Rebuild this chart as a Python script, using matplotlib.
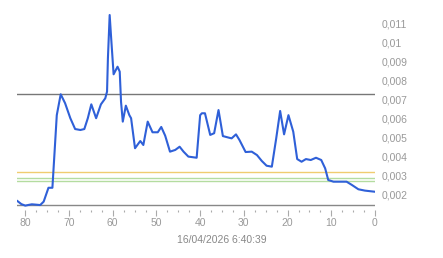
import matplotlib
matplotlib.use('Agg')
import matplotlib.pyplot as plt
from matplotlib.ticker import MultipleLocator

plt.rcParams['font.family'] = ['Liberation Sans', 'DejaVu Sans']

# values (x = units ago, reversed axis)
xs = [81.8, 80.9, 80.0, 79.2, 78.5, 77.5, 76.6, 75.8, 74.7, 73.8, 73.3, 72.8,
      71.9, 70.9, 69.7, 68.6, 67.4, 66.5, 65.7, 64.9, 63.8, 62.7, 61.7, 61.3,
      61.1, 60.7, 60.4, 59.8, 58.9, 58.4, 58.1, 57.7, 57.0, 56.2, 55.8, 54.9,
      53.7, 53.0, 52.0, 50.9, 49.7, 48.9, 48.0, 46.9, 45.7, 44.7, 43.8, 42.7,
      40.8, 40.0, 39.6, 38.9, 37.7, 36.8, 35.8, 34.8, 33.5, 32.8, 31.8, 31.0,
      29.6, 28.2, 27.0, 25.9, 24.8, 23.6, 22.6, 21.7, 20.8, 19.8, 18.7, 17.8,
      16.8, 15.8, 14.7, 13.5, 12.3, 11.4, 10.7, 9.5, 6.5, 5.3, 3.8, 2.3, 0.0]
ys = [0.00168, 0.00152, 0.00144, 0.00148, 0.00151, 0.00149, 0.00147, 0.00165,
      0.00238, 0.00238, 0.00428, 0.0062, 0.0073, 0.00683, 0.00604, 0.00547,
      0.00542, 0.00547, 0.00604, 0.00677, 0.00604, 0.00677, 0.00709, 0.00744,
      0.0092, 0.01147, 0.0104, 0.00835, 0.00875, 0.00849, 0.0069, 0.00586,
      0.0067, 0.0062, 0.00604, 0.00446, 0.00484, 0.00463, 0.00586, 0.0053,
      0.0053, 0.00558, 0.00512, 0.00428, 0.00437, 0.00454, 0.00428, 0.00402,
      0.00396, 0.0062, 0.0063, 0.0063, 0.00516, 0.00525, 0.00647, 0.0051,
      0.00502, 0.00498, 0.00519, 0.00489, 0.00426, 0.00428, 0.0041, 0.00379,
      0.00354, 0.00349, 0.00498, 0.00642, 0.00519, 0.0062, 0.00533, 0.00389,
      0.00375, 0.00389, 0.00384, 0.00396, 0.00384, 0.0034, 0.00279, 0.0027,
      0.0027, 0.00253, 0.0023, 0.00223, 0.00217]

# reference levels
high_level = 0.0073
orange_level = 0.0032
green_levels = [0.00288, 0.00272]
low_level = 0.00147

x_ticks = [80, 70, 60, 50, 40, 30, 20, 10, 0]
y_ticks = [0.002, 0.003, 0.004, 0.005, 0.006, 0.007, 0.008, 0.009, 0.01, 0.011]
y_labels = ['0,002', '0,003', '0,004', '0,005', '0,006', '0,007', '0,008',
            '0,009', '0,01', '0,011']
stamp = '16/04/2026 6:40:39'

fig = plt.figure(figsize=(4.43, 2.58), dpi=100)
ax = fig.add_axes([17 / 443, 1 - 210 / 258, 358 / 443, 210 / 258])

xmin, xmax = 81.9, 0.0
ax.set_xlim(xmin, xmax)
ax.set_ylim(0.00121, 0.01226)

ax.axhline(high_level, color='#777777', lw=1.0, zorder=1)
ax.axhline(orange_level, color='#f0cc70', lw=1.0, zorder=1)
for g in green_levels:
    ax.axhline(g, color='#b4dca0', lw=1.0, zorder=1)
ax.axhline(low_level, color='#888888', lw=1.0, zorder=1)

ax.plot(xs, ys, color='#2f60d8', lw=1.5, zorder=3, solid_joinstyle='round')

for s in ax.spines.values():
    s.set_visible(False)

ax.set_xticks(x_ticks)
ax.xaxis.set_minor_locator(MultipleLocator(2.5))
ax.tick_params(axis='x', which='major', length=4, width=0.8, color='#aaaaaa',
               labelsize=7.5, labelcolor='#999999', pad=2)
ax.tick_params(axis='x', which='minor', length=1.5, width=0.8, color='#aaaaaa')

ax.yaxis.tick_right()
ax.set_yticks(y_ticks)
ax.set_yticklabels(y_labels)
ax.tick_params(axis='y', length=0, labelsize=7.5, labelcolor='#999999', pad=5)

fig.text(0.5, 1 - 240 / 258, stamp, ha='center', va='center', fontsize=7.5,
         color='#888888')

fig.savefig('out.png', dpi=100)
